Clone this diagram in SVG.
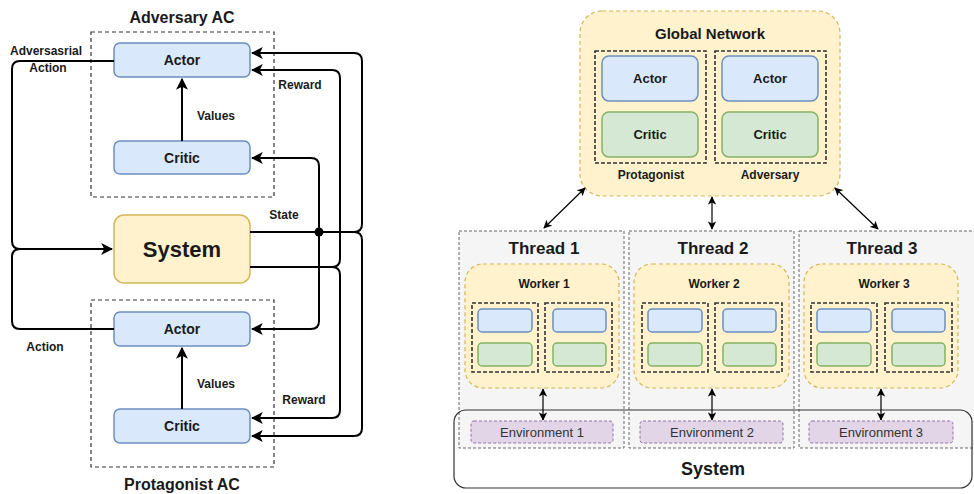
<svg xmlns="http://www.w3.org/2000/svg" width="974" height="494" viewBox="0 0 974 494">
<defs>
<style>
text{font-family:"Liberation Sans",Arial,sans-serif;fill:#1a1a1a;text-anchor:middle}
.b{font-weight:bold}
.blue{fill:#dae8fc;stroke:#6c8ebf;stroke-width:1.5}
.green{fill:#d5e8d4;stroke:#82b366;stroke-width:1.5}
.yel{fill:#fff2cc;stroke:#d6b656;stroke-width:1.5}
.yeld{fill:#fff2cc;stroke:#d6b656;stroke-width:1.2;stroke-dasharray:4 3}
.grp{fill:none;stroke:#333;stroke-width:1.2;stroke-dasharray:4 3}
.grp2{fill:none;stroke:#333;stroke-width:1.6;stroke-dasharray:4 2}
.thr{fill:#f5f5f5;stroke:#666;stroke-width:1;stroke-dasharray:3 2}
.env{fill:#e1d5e7;stroke:#9673a6;stroke-width:1;stroke-dasharray:3 2}
.w{fill:none;stroke:#000;stroke-width:2}
.thin{fill:none;stroke:#000;stroke-width:1.2}
</style>
<marker id="ah" viewBox="0 0 10 10" refX="9" refY="5" markerWidth="6" markerHeight="6" orient="auto-start-reverse" markerUnits="strokeWidth">
<path d="M0,0 L10,5 L0,10 L2.5,5 Z" fill="#000"/>
</marker>
<marker id="sh" viewBox="0 0 10 10" refX="9" refY="5" markerWidth="7" markerHeight="7" orient="auto-start-reverse" markerUnits="strokeWidth">
<path d="M0,0 L10,5 L0,10 L2.5,5 Z" fill="#000"/>
</marker>
</defs>

<!-- Left diagram -->
<g id="adversary-ac">
<rect class="grp" x="91" y="32" width="183" height="165"/>
<text class="b" x="182" y="23" font-size="16">Adversary AC</text>
</g>
<g id="adv-actor">
<rect class="blue" x="114" y="43" width="136" height="34" rx="6"/>
<text class="b" x="182" y="65" font-size="14">Actor</text>
</g>
<g id="adv-critic">
<rect class="blue" x="114" y="141" width="136" height="33" rx="6"/>
<text class="b" x="182" y="163" font-size="14">Critic</text>
</g>
<g id="system-left">
<rect class="yel" x="114" y="215" width="136" height="68" rx="10"/>
<text class="b" x="182" y="257" font-size="22">System</text>
</g>
<g id="protagonist-ac">
<rect class="grp" x="91" y="300" width="183" height="167"/>
<text class="b" x="182" y="490" font-size="16">Protagonist AC</text>
</g>
<g id="prot-actor">
<rect class="blue" x="114" y="312" width="136" height="34" rx="6"/>
<text class="b" x="182" y="334" font-size="14">Actor</text>
</g>
<g id="prot-critic">
<rect class="blue" x="114" y="409" width="136" height="34" rx="6"/>
<text class="b" x="182" y="431" font-size="14">Critic</text>
</g>

<g id="connectors-left">
<path class="w" d="M182,141 V79" marker-end="url(#ah)"/>
<path class="w" d="M182,409 V348" marker-end="url(#ah)"/>
<path class="w" d="M114,61 H20 Q12,61 12,69 V241 Q12,249 20,249 H112" marker-end="url(#ah)"/>
<path class="w" d="M114,329 H20 Q12,329 12,321 V257 Q12,249 20,249"/>
<path class="w" d="M250,232 H354 Q362,232 362,224 V61 Q362,53 354,53 H252" marker-end="url(#ah)"/>
<path class="w" d="M354,232 Q362,232 362,240 V428 Q362,436 354,436 H252" marker-end="url(#ah)"/>
<path class="w" d="M319,232 V166 Q319,158 311,158 H252" marker-end="url(#ah)"/>
<path class="w" d="M319,232 V321 Q319,329 311,329 H252" marker-end="url(#ah)"/>
<path class="w" d="M250,267 H332 Q340,267 340,259 V78 Q340,70 332,70 H252" marker-end="url(#ah)"/>
<path class="w" d="M332,267 Q340,267 340,275 V410 Q340,418 332,418 H252" marker-end="url(#ah)"/>
<circle cx="319" cy="232" r="4.5" fill="#000"/>
<text class="b" x="216" y="120" font-size="12">Values</text>
<text class="b" x="216" y="388" font-size="12">Values</text>
<text class="b" x="300" y="89" font-size="12">Reward</text>
<text class="b" x="304" y="404" font-size="12">Reward</text>
<text class="b" x="284" y="219" font-size="12">State</text>
<text class="b" x="46" y="55" font-size="12">Adversasrial</text>
<text class="b" x="48" y="72" font-size="12">Action</text>
<text class="b" x="45" y="351" font-size="12">Action</text>
</g>

<!-- Right diagram -->
<g id="thread-1">
<rect class="thr" x="459" y="231" width="165" height="217"/>
<text class="b" x="544" y="254" font-size="17">Thread 1</text>
</g>
<g id="thread-2">
<rect class="thr" x="629" y="231" width="165" height="217"/>
<text class="b" x="713" y="254" font-size="17">Thread 2</text>
</g>
<g id="thread-3">
<rect class="thr" x="799" y="231" width="176" height="217"/>
<text class="b" x="882" y="254" font-size="17">Thread 3</text>
</g>
<g id="system-right">
<rect x="454" y="410" width="518" height="78" rx="12" fill="none" stroke="#333" stroke-width="1.2"/>
<text class="b" x="713" y="475" font-size="18">System</text>
</g>

<g id="global-network">
<rect class="yeld" x="580" y="11" width="260" height="185" rx="22"/>
<text class="b" x="710" y="39" font-size="15">Global Network</text>
<rect class="grp2" x="595" y="51" width="111" height="112"/>
<rect class="grp2" x="715" y="51" width="111" height="112"/>
<rect class="blue" x="602" y="56" width="96" height="45" rx="7"/>
<text class="b" x="650" y="83" font-size="13">Actor</text>
<rect class="green" x="602" y="112" width="96" height="45" rx="7"/>
<text class="b" x="650" y="139" font-size="13">Critic</text>
<rect class="blue" x="722" y="56" width="96" height="45" rx="7"/>
<text class="b" x="770" y="83" font-size="13">Actor</text>
<rect class="green" x="722" y="112" width="96" height="45" rx="7"/>
<text class="b" x="770" y="139" font-size="13">Critic</text>
<text class="b" x="651" y="179" font-size="12">Protagonist</text>
<text class="b" x="770" y="179" font-size="12">Adversary</text>
</g>

<g id="worker-1">
<rect class="yeld" x="465" y="264" width="154" height="124" rx="18"/>
<text class="b" x="544" y="288" font-size="12">Worker 1</text>
<rect class="grp2" x="472" y="303" width="66" height="69"/>
<rect class="grp2" x="545" y="303" width="67" height="69"/>
<rect class="blue" x="478" y="309" width="54" height="23" rx="4"/>
<rect class="green" x="478" y="343" width="54" height="23" rx="4"/>
<rect class="blue" x="553" y="309" width="53" height="23" rx="4"/>
<rect class="green" x="553" y="343" width="53" height="23" rx="4"/>
</g>
<g id="worker-2">
<rect class="yeld" x="634" y="264" width="155" height="124" rx="18"/>
<text class="b" x="714" y="288" font-size="12">Worker 2</text>
<rect class="grp2" x="642" y="303" width="66" height="69"/>
<rect class="grp2" x="715" y="303" width="67" height="69"/>
<rect class="blue" x="648" y="309" width="54" height="23" rx="4"/>
<rect class="green" x="648" y="343" width="54" height="23" rx="4"/>
<rect class="blue" x="723" y="309" width="53" height="23" rx="4"/>
<rect class="green" x="723" y="343" width="53" height="23" rx="4"/>
</g>
<g id="worker-3">
<rect class="yeld" x="804" y="264" width="154" height="124" rx="18"/>
<text class="b" x="884" y="288" font-size="12">Worker 3</text>
<rect class="grp2" x="811" y="303" width="66" height="69"/>
<rect class="grp2" x="885" y="303" width="67" height="69"/>
<rect class="blue" x="817" y="309" width="54" height="23" rx="4"/>
<rect class="green" x="817" y="343" width="54" height="23" rx="4"/>
<rect class="blue" x="892" y="309" width="53" height="23" rx="4"/>
<rect class="green" x="892" y="343" width="53" height="23" rx="4"/>
</g>
<g id="environment-1">
<rect class="env" x="471" y="421" width="142" height="22" rx="3"/>
<text x="542" y="437" font-size="13" style="fill:#333">Environment 1</text>
</g>
<g id="environment-2">
<rect class="env" x="640" y="421" width="143" height="22" rx="3"/>
<text x="712" y="437" font-size="13" style="fill:#333">Environment 2</text>
</g>
<g id="environment-3">
<rect class="env" x="809" y="421" width="144" height="22" rx="3"/>
<text x="881" y="437" font-size="13" style="fill:#333">Environment 3</text>
</g>

<g id="connectors-right">
<path class="thin" d="M585,188 L544,228" marker-start="url(#sh)" marker-end="url(#sh)"/>
<path class="thin" d="M712,197 V229" marker-start="url(#sh)" marker-end="url(#sh)"/>
<path class="thin" d="M835,188 L878,229" marker-start="url(#sh)" marker-end="url(#sh)"/>
<path class="thin" d="M543,389 V420" marker-start="url(#sh)" marker-end="url(#sh)"/>
<path class="thin" d="M712,389 V420" marker-start="url(#sh)" marker-end="url(#sh)"/>
<path class="thin" d="M881,389 V420" marker-start="url(#sh)" marker-end="url(#sh)"/>
</g>
</svg>
